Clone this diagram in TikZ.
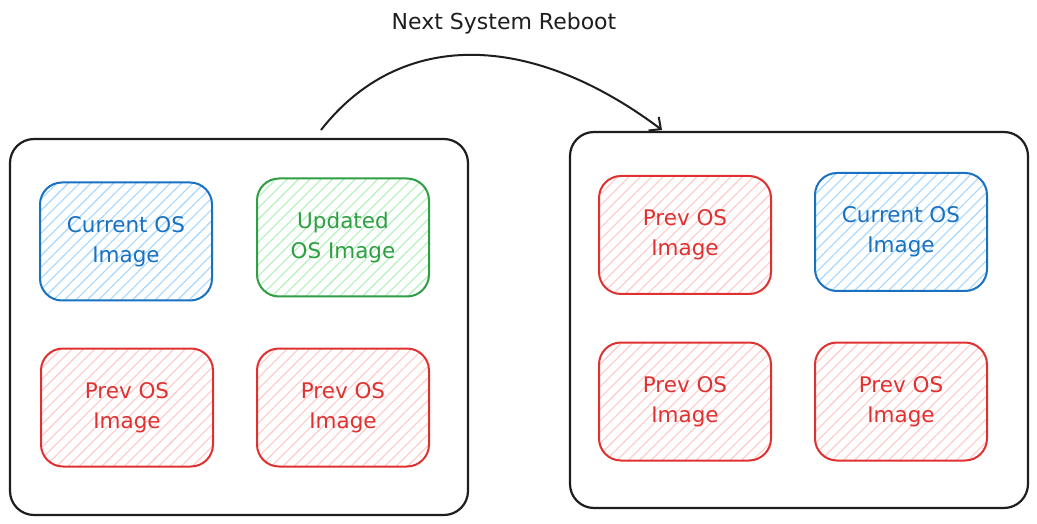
\documentclass[tikz,border=0pt]{standalone}
\usepackage{fontspec}
\setmainfont{DejaVu Sans}
\usetikzlibrary{arrows.meta,patterns.meta}
\definecolor{ink}{HTML}{1E1E1E}
\definecolor{bluestroke}{HTML}{1971C2}
\definecolor{bluefill}{HTML}{A5D8FF}
\definecolor{greenstroke}{HTML}{2F9E44}
\definecolor{greenfill}{HTML}{B2F2BB}
\definecolor{redstroke}{HTML}{E03131}
\definecolor{redfill}{HTML}{FFC9C9}
\tikzset{
  outerbox/.style={draw=ink, line width=2.2pt, rounded corners=24pt,
    minimum width=458pt, minimum height=376pt},
  hatch/.style={pattern={Lines[angle=45,distance=8pt,line width=1.1pt]}},
  imgbox/.style={line width=2pt, rounded corners=22pt, hatch,
    minimum width=172pt, minimum height=118pt, align=center,
    font=\fontsize{21.5}{30}\selectfont},
  bluebox/.style={imgbox, draw=bluestroke, text=bluestroke, pattern color=bluefill},
  greenbox/.style={imgbox, draw=greenstroke, text=greenstroke, pattern color=greenfill},
  redbox/.style={imgbox, draw=redstroke, text=redstroke, pattern color=redfill},
  reboot/.style={draw=ink, line width=2pt,
    -{Straight Barb[length=9pt,width=17pt,line width=2pt]}},
  title/.style={text=ink, font=\fontsize{22}{26}\selectfont}
}
\begin{document}
\begin{tikzpicture}[x=1pt,y=1pt]
\useasboundingbox[fill=white] (0,0) rectangle (1037,523);
% outer containers
\node[outerbox] (left) at (239,196) {};
\node[outerbox] (right) at (799,203) {};
% left group
\node[bluebox] (l1) at (126,281.5) {Current OS\\Image};
\node[greenbox] (l2) at (343,285.5) {Updated\\OS Image};
\node[redbox] (l3) at (127,115.5) {Prev OS\\Image};
\node[redbox] (l4) at (343,115.5) {Prev OS\\Image};
% right group
\node[redbox] (r1) at (685,288) {Prev OS\\Image};
\node[bluebox] (r2) at (901,291) {Current OS\\Image};
\node[redbox] (r3) at (685,121.5) {Prev OS\\Image};
\node[redbox] (r4) at (901,121.5) {Prev OS\\Image};
% arrow
\coordinate (a) at (321,393);
\coordinate (b) at (662,393);
\draw[reboot] (a) .. controls (400,494) and (530,492) .. (b);
\node[title] (t) at (504,500) {Next System Reboot};
\end{tikzpicture}
\end{document}
